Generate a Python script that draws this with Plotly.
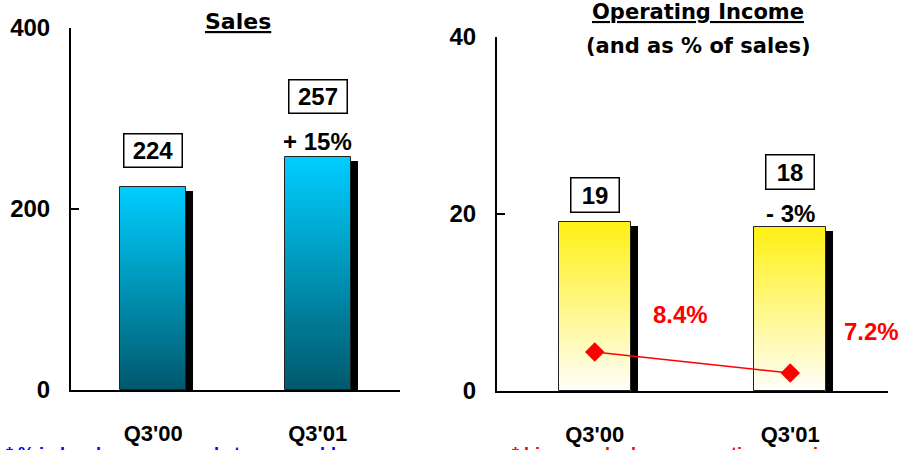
import plotly.graph_objects as go

# ---------------- data ----------------
categories = ["Q3'00", "Q3'01"]
sales_values = [224, 257]
sales_labels = ["224", "257"]
sales_change = "+ 15%"
opinc_values = [19.1, 18.5]
opinc_labels = ["19", "18"]
opinc_change = "- 3%"
margin_pct = [8.4, 7.2]
margin_labels = ["8.4%", "7.2%"]
sales_ticks = [0, 200, 400]
opinc_ticks = [0, 20, 40]
footnote_left = "* % in local currency and at comparable scope"
footnote_right = "* Line graph shows operating margin"

# ---------------- style ----------------
W, H = 903, 450
FONT = "Liberation Sans, Arial, sans-serif"
WIDE = "DejaVu Sans, Verdana, sans-serif"
N = 60


def px_x(p):
    return p / W


def px_y(p):
    return (H - p) / H


def lerp(c0, c1, t):
    return "rgb(%d,%d,%d)" % tuple(round(a + (b - a) * t) for a, b in zip(c0, c1))


fig = go.Figure()


def add_bars(values, xa, ya, width, c_bottom, c_top, shadow_dx, shadow_dy):
    # shadow
    fig.add_trace(go.Bar(
        x=categories, y=[v - shadow_dy for v in values], base=0,
        width=width, offset=-width / 2 + shadow_dx,
        marker=dict(color="black", line=dict(width=0)),
        xaxis=xa, yaxis=ya, showlegend=False, hoverinfo="skip"))
    # vertical gradient built from overlapping segments
    for k in range(N):
        t = (k + 0.5) / N
        fig.add_trace(go.Bar(
            x=categories,
            y=[v * (N - k) / N for v in values],
            base=[v * k / N for v in values],
            width=width, offset=-width / 2,
            marker=dict(color=lerp(c_bottom, c_top, t), line=dict(width=0)),
            xaxis=xa, yaxis=ya, showlegend=False, hoverinfo="skip"))
    # outline
    fig.add_trace(go.Bar(
        x=categories, y=values, base=0,
        width=width, offset=-width / 2,
        marker=dict(color="rgba(0,0,0,0)", line=dict(color="#222222", width=1)),
        xaxis=xa, yaxis=ya, showlegend=False, hoverinfo="skip"))


add_bars(sales_values, "x", "y", 0.40, (0, 88, 108), (0, 206, 255), 0.042, 4.4)
add_bars(opinc_values, "x2", "y2", 0.37, (255, 255, 250), (255, 240, 20), 0.036, 0.45)

# margin line on hidden secondary axis
fig.add_trace(go.Scatter(
    x=categories, y=margin_pct, mode="lines+markers",
    line=dict(color="#ff0000", width=1.5),
    marker=dict(symbol="diamond", size=15, color="#ff0000"),
    xaxis="x2", yaxis="y3", showlegend=False, hoverinfo="skip"))

ann = []
big = dict(family=FONT, size=24, color="black", weight="bold")

# boxed value labels
for c, v, lab, ys in zip(categories, sales_values, sales_labels, [37, 61]):
    ann.append(dict(x=c, y=v, xref="x", yref="y", text=lab, showarrow=False,
                    yanchor="middle", yshift=ys, font=big, width=52, height=27,
                    borderpad=2.5, bordercolor="black", borderwidth=1.5, bgcolor="white"))
ann.append(dict(x=categories[1], y=sales_values[1], xref="x", yref="y",
                text=sales_change, showarrow=False, yanchor="middle", yshift=16, font=big))

for c, v, lab, ys in zip(categories, opinc_values, opinc_labels, [27, 55]):
    ann.append(dict(x=c, y=v, xref="x2", yref="y2", text=lab, showarrow=False,
                    yanchor="middle", yshift=ys, font=big, width=42, height=28,
                    borderpad=2.5, bordercolor="black", borderwidth=1.5, bgcolor="white"))
ann.append(dict(x=categories[1], y=opinc_values[1], xref="x2", yref="y2",
                text=opinc_change, showarrow=False, yanchor="middle", yshift=14, font=big))

# margin labels
for c, p, lab, dx, dy in zip(categories, margin_pct, margin_labels, [86, 81], [38, 41]):
    ann.append(dict(x=c, y=p, xref="x2", yref="y3", text=lab, showarrow=False,
                    xshift=dx, yshift=dy, yanchor="middle",
                    font=dict(family=FONT, size=24, color="#ff0000", weight="bold")))

# titles
ann.append(dict(x=px_x(238), y=px_y(22), xref="paper", yref="paper", showarrow=False,
                text="<u>Sales</u>", xanchor="center", yanchor="middle",
                font=dict(family=WIDE, size=22, color="black", weight="bold")))
ann.append(dict(x=px_x(698), y=px_y(12), xref="paper", yref="paper", showarrow=False,
                text="<u>Operating Income</u>", xanchor="center", yanchor="middle",
                font=dict(family=WIDE, size=21, color="black", weight="bold")))
ann.append(dict(x=px_x(698), y=px_y(46), xref="paper", yref="paper", showarrow=False,
                text="(and as % of sales)", xanchor="center", yanchor="middle",
                font=dict(family=WIDE, size=21, color="black", weight="bold")))

# footnotes (cut off by the bottom edge, as in the original)
ann.append(dict(x=px_x(4), y=px_y(442), xref="paper", yref="paper", showarrow=False,
                text=footnote_left, xanchor="left", yanchor="top",
                font=dict(family=FONT, size=18, color="#0000ff", weight="bold")))
ann.append(dict(x=px_x(510), y=px_y(442), xref="paper", yref="paper", showarrow=False,
                text=footnote_right, xanchor="left", yanchor="top",
                font=dict(family=FONT, size=18, color="#ff0000", weight="bold")))

axis_common = dict(showgrid=False, zeroline=False, showline=True, linecolor="black",
                   linewidth=2, automargin=False)
xcommon = dict(axis_common, type="category", categoryorder="array",
               categoryarray=categories, range=[-0.5, 1.5], ticks="",
               tickfont=dict(family=FONT, size=22, color="black", weight="bold"),
               ticklabelstandoff=23)
ycommon = dict(axis_common, ticks="inside", ticklen=8, tickwidth=2, tickcolor="black",
               tickfont=dict(family=FONT, size=24, color="black", weight="bold"),
               ticklabelstandoff=14)

fig.update_layout(
    width=W, height=H, margin=dict(l=0, r=0, t=0, b=0, autoexpand=False),
    paper_bgcolor="white", plot_bgcolor="white",
    barmode="overlay", bargap=0,
    xaxis=dict(xcommon, domain=[px_x(71), px_x(400)], anchor="y"),
    yaxis=dict(ycommon, domain=[px_y(390), px_y(28)], anchor="x",
               range=[0, 400], tickvals=sales_ticks),
    xaxis2=dict(xcommon, domain=[px_x(497), px_x(888)], anchor="y2"),
    yaxis2=dict(ycommon, domain=[px_y(391), px_y(37)], anchor="x2",
                range=[0, 40], tickvals=opinc_ticks),
    yaxis3=dict(overlaying="y2", anchor="x2", range=[6.17, 26.42], visible=False),
    annotations=ann,
)

fig.write_html("out.html", config={"displayModeBar": False},
               post_script="document.body.style.margin='0';document.body.style.overflow='hidden';")
